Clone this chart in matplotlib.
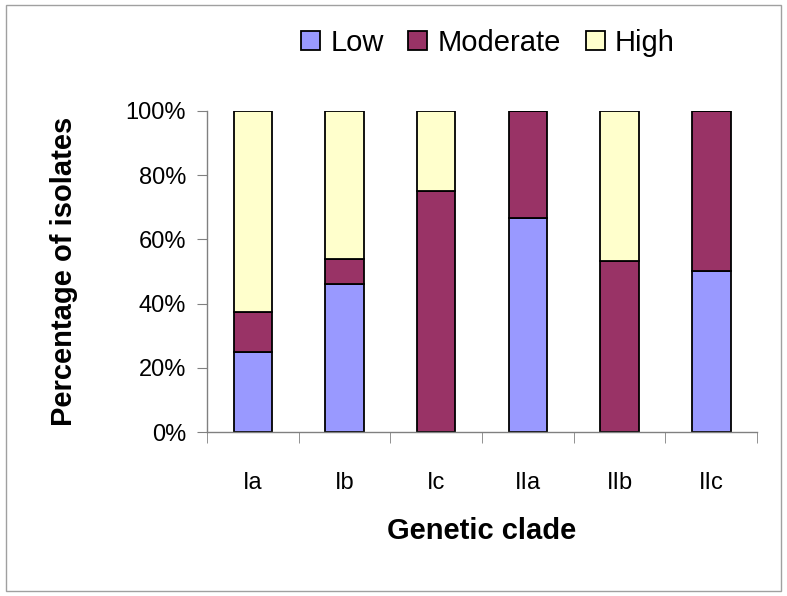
import matplotlib
matplotlib.use("Agg")
import matplotlib.pyplot as plt
import numpy as np
from matplotlib.ticker import FuncFormatter, FixedLocator
from matplotlib.patches import Rectangle

plt.rcParams['font.family'] = ['Liberation Sans', 'DejaVu Sans']

# datele (procente)
clades = ['Ia', 'Ib', 'Ic', 'IIa', 'IIb', 'IIc']
low = [25.0, 46.2, 0.0, 66.7, 0.0, 50.0]
moderate = [12.5, 7.7, 75.0, 33.3, 53.3, 50.0]
high = [62.5, 46.1, 25.0, 0.0, 46.7, 0.0]

fig = plt.figure(figsize=(7.87, 5.96), dpi=100)
ax = fig.add_axes([0.263, 0.275, 0.699, 0.539])

x = np.arange(len(clades))
w = 0.42
low = np.array(low)
moderate = np.array(moderate)
high = np.array(high)

ax.bar(x, low, w, color='#9999FF', edgecolor='black', linewidth=1.3, label='Low')
ax.bar(x, moderate, w, bottom=low, color='#993366', edgecolor='black', linewidth=1.3, label='Moderate')
ax.bar(x, high, w, bottom=low + moderate, color='#FFFFCC', edgecolor='black', linewidth=1.3, label='High')

ax.set_xlim(-0.5, len(clades) - 0.5)
ax.set_ylim(0, 100)
ax.set_yticks(np.arange(0, 101, 20))
ax.yaxis.set_major_formatter(FuncFormatter(lambda v, p: '%d%%' % v))
ax.set_xticks(x)
ax.set_xticklabels(clades)
ax.xaxis.set_minor_locator(FixedLocator(np.arange(-0.5, len(clades), 1.0)))

for s in ['top', 'right']:
    ax.spines[s].set_visible(False)
for s in ['left', 'bottom']:
    ax.spines[s].set_color('#808080')
    ax.spines[s].set_linewidth(1.0)

ax.tick_params(axis='y', which='major', length=7, color='#808080', labelsize=17, pad=8)
ax.tick_params(axis='x', which='major', length=0, labelsize=17, pad=29)
ax.tick_params(axis='x', which='minor', length=8, color='#808080')

ax.set_xlabel('Genetic clade', fontsize=21, fontweight='bold', labelpad=16)
ax.set_ylabel('Percentage of isolates', fontsize=21, fontweight='bold', labelpad=34)

leg = fig.legend(loc='center', bbox_to_anchor=(0.62, 0.928), ncol=3, frameon=False,
                 fontsize=21, handlelength=0.65, handleheight=0.65, handletextpad=0.35,
                 columnspacing=0.85, borderpad=0)

# chenarul gri din jurul figurii
fig.patches.append(Rectangle((0.008, 0.008), 0.984, 0.984, transform=fig.transFigure,
                             fill=False, edgecolor='#a0a0a0', linewidth=1.0))

fig.savefig('out.png', dpi=100)
